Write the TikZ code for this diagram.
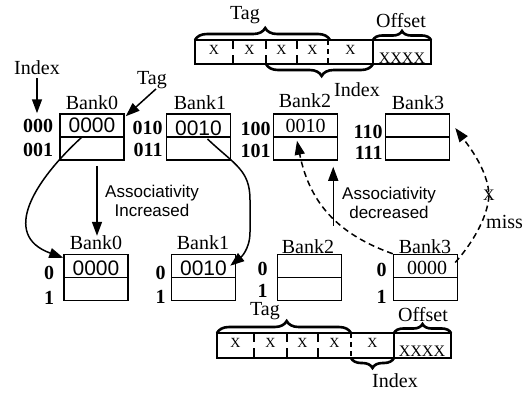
\documentclass[tikz,border=0pt]{standalone}
\usepackage{fontspec}
\setmainfont{Liberation Serif}
\setsansfont{Liberation Sans}
\usetikzlibrary{arrows.meta,decorations.pathreplacing,calc}
\begin{document}
\begin{tikzpicture}[x=1pt,y=-1pt,
  bank/.style={draw,line width=1.5pt,minimum width=64pt,minimum height=46pt,inner sep=0pt},
  lbl/.style={font=\fontsize{20}{22}\selectfont,inner sep=0pt},
  num/.style={font=\fontsize{20}{22}\selectfont\bfseries,inner sep=0pt,anchor=east},
  val/.style={font=\sffamily\fontsize{21}{23}\selectfont,inner sep=0pt},
  sval/.style={font=\fontsize{20}{22}\selectfont,inner sep=0pt},
  assoc/.style={font=\sffamily\fontsize{17}{19}\selectfont,align=center,inner sep=0pt},
  arr/.style={line width=1.5pt,-{Triangle[length=14pt,width=10pt]}},
  darr/.style={arr,dash pattern=on 6pt off 4pt},
  brc/.style={decorate,decoration={brace,amplitude=12pt,aspect=#1},line width=2.6pt},
  brc/.default=0.5,
  sbrc/.style={decorate,decoration={brace,amplitude=9pt,aspect=0.5},line width=2.6pt},
  cell/.style={font=\fontsize{14}{16}\selectfont,inner sep=0pt},
  offs/.style={font=\fontsize{16}{18}\selectfont,inner sep=0pt},
  bar/.style={line width=1.5pt},
  divd/.style={line width=1.3pt,dash pattern=on 9pt off 6pt},
  divd2/.style={line width=1.3pt,dash pattern=on 5pt off 4pt},
]
\useasboundingbox (0,0) rectangle (522,392);

% ---------- top address bar ----------
\draw[bar] (195,40) rectangle (431,64);
\foreach \x in {233,266,297} \draw[divd] (\x,40) -- (\x,64);
\draw[divd2] (328,40) -- (328,64);
\draw[bar] (373,40) -- (373,64);
\foreach \x/\n in {214/a,249.5/b,281.5/c,312.5/d,350.5/e} \node[cell] (tc\n) at (\x,50) {X};
\node[offs] (toff) at (402,58) {XXXX};
\draw[brc=0.52] (195,40) -- (330,40);
\draw[brc=0.48] (373,64) -- (266,64);
\draw[sbrc] (373,40) -- (431,40);
\node[lbl] (ttag) at (245,15) {Tag};
\node[lbl] (toffl) at (401,21) {Offset};
\node[lbl] (tidx) at (357,90) {Index};

% ---------- bottom address bar ----------
\draw[bar] (217,333) rectangle (451,358);
\foreach \x in {254,287,318} \draw[divd] (\x,333) -- (\x,358);
\draw[divd2] (351,333) -- (351,358);
\draw[bar] (394,333) -- (394,358);
\foreach \x/\n in {235.5/a,270.5/b,302.5/c,334.5/d,372.5/e} \node[cell] (bc\n) at (\x,343) {X};
\node[offs] (boff) at (422,351) {XXXX};
\draw[brc=0.52] (217,333) -- (351,333);
\draw[decorate,decoration={brace,amplitude=10pt,aspect=0.5},line width=2.6pt] (394,358) -- (351,358);
\draw[sbrc] (394,333) -- (451,333);
\node[lbl] (btag) at (265,311) {Tag};
\node[lbl] (boffl) at (423,315) {Offset};
\node[lbl] (bidx) at (395,381) {Index};

% ---------- top banks ----------
\node[bank] (b0t) at (92,137) {};
\node[bank] (b1t) at (198.5,137) {};
\node[bank] (b2t) at (305.5,137) {};
\node[bank] (b3t) at (417.5,137) {};
\foreach \b in {b0t,b1t,b2t,b3t} \draw[line width=1.5pt] (\b.west) -- (\b.east);
\node[lbl] (lb0t) at (92,103) {Bank0};
\node[lbl] (lb1t) at (200,103) {Bank1};
\node[lbl] (lb2t) at (305,101) {Bank2};
\node[lbl] (lb3t) at (418,103) {Bank3};
\node[val] (v0t) at (92,125) {0000};
\node[val] (v1t) at (198.5,128) {0010};
\node[sval] (v2t) at (305.5,126) {0010};
\node[num] (n000) at ($(b0t.west)+(-6,-11)$) {000};
\node[num] (n001) at ($(b0t.west)+(-6,13)$) {001};
\node[num] (n010) at ($(b1t.west)+(-3,-9)$) {010};
\node[num] (n011) at ($(b1t.west)+(-3,13)$) {011};
\node[num] (n100) at ($(b2t.west)+(-2,-8)$) {100};
\node[num] (n101) at ($(b2t.west)+(-2,14)$) {101};
\node[num] (n110) at ($(b3t.west)+(-2,-5)$) {110};
\node[num] (n111) at ($(b3t.west)+(-2,16)$) {111};

% ---------- bottom banks ----------
\node[bank] (b0b) at (96,277.5) {};
\node[bank] (b1b) at (203.5,277.5) {};
\node[bank] (b2b) at (309.5,277.5) {};
\node[bank] (b3b) at (425.5,277.5) {};
\foreach \b in {b0b,b1b,b2b,b3b} \draw[line width=1.5pt] (\b.west) -- (\b.east);
\node[lbl] (lb0b) at (96,243) {Bank0};
\node[lbl] (lb1b) at (203,243) {Bank1};
\node[lbl] (lb2b) at (308,247) {Bank2};
\node[lbl] (lb3b) at (425,247) {Bank3};
\node[val] (v0b) at (96,268) {0000};
\node[val] (v1b) at (203.5,268) {0010};
\node[sval] (v3b) at (427,268) {0000};
\node[num] (z0) at ($(b0b.west)+(-9,-5)$) {0};
\node[num] (o0) at ($(b0b.west)+(-9,20)$) {1};
\node[num] (z1) at ($(b1b.west)+(-5,-5)$) {0};
\node[num] (o1) at ($(b1b.west)+(-5,19)$) {1};
\node[num] (z2) at ($(b2b.west)+(-9,-9)$) {0};
\node[num] (o2) at ($(b2b.west)+(-9,13)$) {1};
\node[num] (z3) at ($(b3b.west)+(-6,-8)$) {0};
\node[num] (o3) at ($(b3b.west)+(-6,19)$) {1};

% ---------- labels and arrows ----------
\node[lbl] (lidx) at (37,68) {Index};
\draw[arr] ([yshift=-3pt]lidx.south) -- (lidx.south |- b0t.north);
\node[lbl] (ltag) at (152,80) {Tag};
\draw[arr] ($(ltag.south)+(4,0)$) -- ($(b0t.north east)+(1,3)$);

\node[assoc] (ainc) at (152,201) {Associativity\\Increased};
\coordinate (ai) at ($(b0t.south)+(5,5)$);
\draw[arr] (ai) -- (ai |- lb0b.north);

\node[assoc] (adec) at (389,203) {Associativity\\decreased};
\coordinate (ad) at ($(b2t.south east)+(-5,6)$);
\draw[arr] ($(ad)+(0,59)$) -- (ad);

% curved solid arrows
\draw[arr] ($(b0t.center)+(-10,0)$) .. controls (35,180) and (0,235) .. ($(b0b.north west)+(0,4)$);
\draw[arr] ($(b1t.center)+(9,2)$) .. controls (235,165) and (250,170) .. (250,200)
   -- (250,232) .. controls (250,250) and (240,258) .. ($(b1b.north east)+(-6,12)$);

% dashed arrows
\node[font=\fontsize{16}{18}\selectfont,inner sep=0pt] (xm) at (489,195) {X};
\node[lbl,anchor=west] (miss) at (486,222) {miss};
\draw[darr] ($(b3b.east)+(-3,-15)$) .. controls (475,240) and (488,215) .. (xm.center)
   .. controls (488,170) and (468,145) .. ($(b3t.east)+(5,-9)$);
\draw[darr] (b3b.north west) .. controls (340,235) and (310,205) .. ($(b2t.south)+(-8.5,-20)$);
\end{tikzpicture}
\end{document}
